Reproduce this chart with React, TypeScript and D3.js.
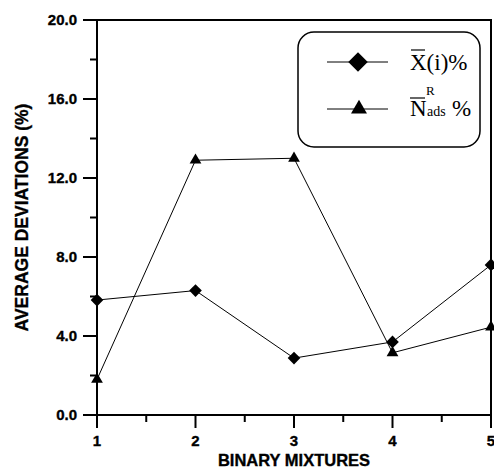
import React from 'react'
import * as d3 from 'd3'

const mixtures = [1, 2, 3, 4, 5]
const xMean = [5.82, 6.3, 2.88, 3.7, 7.6]
const nAds = [1.8, 12.9, 13.0, 3.15, 4.45]
const yTicks = [0, 4, 8, 12, 16, 20]
const yMinor = [2, 6, 10, 14, 18]
const xMinor = [1.5, 2.5, 3.5, 4.5]

const width = 494
const height = 469
const left = 97
const right = 491
const top = 20
const bottom = 415

export default function App () {
  const x = d3.scaleLinear().domain([1, 5]).range([left, right])
  const y = d3.scaleLinear().domain([0, 20]).range([bottom, top])
  const line = d3.line<number>()
    .x((d, i) => x(mixtures[i]))
    .y(d => y(d))
  const diamond = d3.symbol(d3.symbolSquare, 80)()
  const diamondBig = d3.symbol(d3.symbolSquare, 190)()
  const tri = d3.symbol(d3.symbolTriangle, 60)()
  const triBig = d3.symbol(d3.symbolTriangle, 110)()
  const axisFont = 'Liberation Sans, Arial, sans-serif'
  const serif = 'Liberation Serif, Times New Roman, serif'

  return <svg width={width} height={height} style={{ position: 'absolute', left: 0, top: 0, background: '#fff' }}>
    <rect x={left} y={top} width={right - left} height={bottom - top} fill='none' stroke='#000' strokeWidth={2} />

    <path d={line(xMean) || ''} fill='none' stroke='#000' strokeWidth={1} />
    <path d={line(nAds) || ''} fill='none' stroke='#000' strokeWidth={1} />
    {xMean.map((v, i) => <path key={'d' + i} d={diamond} transform={`translate(${x(mixtures[i])},${y(v)}) rotate(45)`} fill='#000' />)}
    {nAds.map((v, i) => <path key={'t' + i} d={tri} transform={`translate(${x(mixtures[i])},${y(v)})`} fill='#000' />)}

    <g fontFamily={axisFont} fontWeight='bold' fontSize={15} fill='#000' stroke='#000' strokeWidth={0.35}>
      {yTicks.map(v => <g key={v} transform={`translate(${left},${y(v)})`}>
        <line x1={0} x2={-14} stroke='#000' strokeWidth={2} />
        <text x={-20} dy='0.36em' textAnchor='end'>{v.toFixed(1)}</text>
      </g>)}
      {yMinor.map(v => <line key={v} x1={left} x2={left - 7} y1={y(v)} y2={y(v)} stroke='#000' strokeWidth={2} />)}
      {mixtures.map(v => <g key={v} transform={`translate(${x(v)},${bottom})`}>
        <line y1={0} y2={13} stroke='#000' strokeWidth={2} />
        <text y={31} textAnchor='middle'>{v}</text>
      </g>)}
      {xMinor.map(v => <line key={v} x1={x(v)} x2={x(v)} y1={bottom} y2={bottom + 7} stroke='#000' strokeWidth={2} />)}
      <text x={(left + right) / 2} y={466} textAnchor='middle' fontSize={16.5}>BINARY MIXTURES</text>
      <text transform={`translate(28,${(top + bottom) / 2}) rotate(-90)`} textAnchor='middle' fontSize={17.5}>AVERAGE DEVIATIONS (%)</text>
    </g>

    <g>
      <rect x={298} y={32} width={182} height={115} rx={16} ry={16} fill='#fff' stroke='#000' strokeWidth={1.5} />
      <line x1={327} x2={388} y1={62} y2={62} stroke='#000' strokeWidth={1} />
      <path d={diamondBig} transform='translate(358,62) rotate(45)' fill='#000' />
      <line x1={327} x2={388} y1={109} y2={109} stroke='#000' strokeWidth={1} />
      <path d={triBig} transform='translate(359,109)' fill='#000' />
      <g fontFamily={serif} fill='#000'>
        <text x={410} y={70} fontSize={23}>X(i)%</text>
        <line x1={411} x2={425} y1={50} y2={50} stroke='#000' strokeWidth={1.2} />
        <text x={410} y={116} fontSize={23}>N</text>
        <line x1={410} x2={425} y1={98} y2={98} stroke='#000' strokeWidth={1.2} />
        <text x={426} y={95} fontSize={13}>R</text>
        <text x={427} y={116} fontSize={14}>ads</text>
        <text x={452} y={116} fontSize={23}>%</text>
      </g>
    </g>
  </svg>
}
